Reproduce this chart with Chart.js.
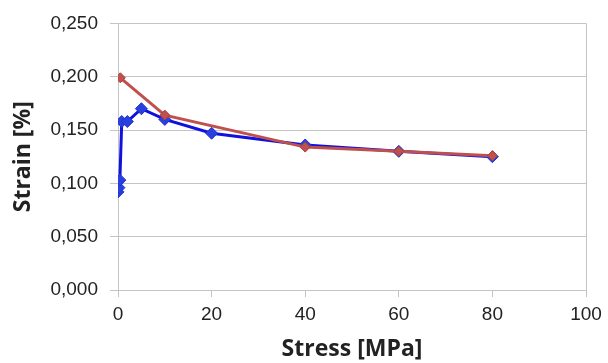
<!DOCTYPE html>
<html>
<head>
<meta charset="utf-8">
<script src="https://cdn.jsdelivr.net/npm/chart.js@4.4.0/dist/chart.umd.min.js"></script>
<style>
  html, body { margin: 0; padding: 0; background: #fff; }
  #wrap { width: 608px; height: 363px; }
</style>
</head>
<body>
<div id="wrap"><canvas id="chart" width="608" height="363"></canvas></div>
<script>
// Values
const blueStress = [0, 0.2, 0.4, 0.8, 2, 5, 10, 20, 40, 60, 80];
const blueStrain = [0.092, 0.096, 0.103, 0.158, 0.158, 0.170, 0.160, 0.147, 0.136, 0.130, 0.125];
const redStress = [0.5, 10, 40, 60, 80];
const redStrain = [0.199, 0.164, 0.134, 0.130, 0.126];
const xTicks = [0, 20, 40, 60, 80, 100];
const yTicks = [0, 0.05, 0.1, 0.15, 0.2, 0.25];

const toPoints = (xs, ys) => xs.map((x, i) => ({ x: x, y: ys[i] }));
const gridGray = '#c4c4c4';

new Chart(document.getElementById('chart'), {
  type: 'scatter',
  data: {
    datasets: [
      {
        label: 'blue',
        data: toPoints(blueStress, blueStrain),
        showLine: true,
        borderColor: '#1010e0',
        backgroundColor: '#2a3fe0',
        borderWidth: 3,
        pointStyle: 'rectRot',
        pointRadius: 6,
        pointBorderWidth: 1,
        pointBorderColor: '#2035c8',
        order: 2
      },
      {
        label: 'red',
        data: toPoints(redStress, redStrain),
        showLine: true,
        borderColor: '#c0504d',
        backgroundColor: '#c0504d',
        borderWidth: 3,
        pointStyle: 'rectRot',
        pointRadius: 5,
        pointBorderWidth: 1,
        pointBorderColor: '#a8403d',
        order: 1
      }
    ]
  },
  options: {
    responsive: false,
    animation: false,
    layout: { padding: { top: 22, right: 22, left: 0, bottom: 0 } },
    plugins: { legend: { display: false }, tooltip: { enabled: false } },
    scales: {
      x: {
        type: 'linear',
        min: 0, max: 100,
        afterBuildTicks: s => { s.ticks = xTicks.map(v => ({ value: v })); },
        afterFit: s => { s.height = 73; },
        grid: {
          color: c => (c.tick && c.tick.value === 100) ? gridGray : 'rgba(0,0,0,0)',
          tickColor: gridGray,
          tickLength: 7,
          lineWidth: 1
        },
        border: { color: gridGray },
        ticks: {
          color: '#222',
          padding: 6,
          font: { family: 'Liberation Sans', size: 19 }
        },
        title: {
          display: true,
          text: 'Stress [MPa]',
          color: '#222',
          font: { family: 'Open Sans', size: 23, weight: 'bold' },
          padding: { top: 4, bottom: 0 }
        }
      },
      y: {
        type: 'linear',
        min: 0, max: 0.25,
        afterBuildTicks: s => { s.ticks = yTicks.map(v => ({ value: v })); },
        afterFit: s => { s.width = 118; },
        grid: { color: gridGray, tickColor: gridGray, tickLength: 8, lineWidth: 1 },
        border: { color: gridGray },
        ticks: {
          color: '#222',
          padding: 12,
          font: { family: 'Liberation Sans', size: 19 },
          callback: v => v.toFixed(3).replace('.', ',')
        },
        title: {
          display: true,
          text: 'Strain [%]',
          color: '#222',
          font: { family: 'Open Sans', size: 23, weight: 'bold' },
          padding: { top: 10, bottom: 0 }
        }
      }
    }
  }
});
</script>
</body>
</html>
